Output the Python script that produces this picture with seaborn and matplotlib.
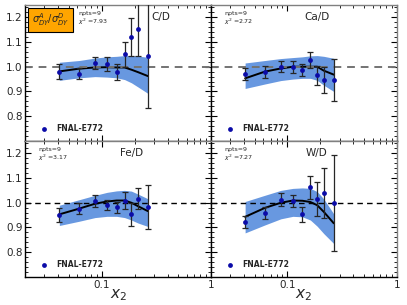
import matplotlib
matplotlib.use('Agg')
import matplotlib.pyplot as plt
import seaborn as sns
import pandas as pd
from matplotlib.ticker import FixedLocator, NullFormatter, AutoMinorLocator, FormatStrFormatter

# x2 values of the FNAL-E772 points (same for every target)
x2 = [0.041, 0.062, 0.087, 0.112, 0.137, 0.162, 0.187, 0.215, 0.265]

panels = ['C/D', 'Ca/D', 'Fe/D', 'W/D']
chi2 = ['7.93', '2.72', '3.17', '7.27']

# data ratios and errors
ratio_C = [0.980, 0.972, 1.014, 1.011, 0.978, 1.050, 1.120, 1.154, 1.045]
err_C = [0.030, 0.022, 0.025, 0.027, 0.033, 0.050, 0.078, 0.112, 0.210]
ratio_Ca = [0.970, 0.980, 1.000, 1.000, 0.986, 1.026, 0.965, 0.946, 0.946]
err_Ca = [0.024, 0.024, 0.023, 0.025, 0.025, 0.032, 0.037, 0.052, 0.085]
ratio_Fe = [0.951, 0.975, 1.008, 0.991, 0.982, 1.008, 0.953, 1.016, 0.983]
err_Fe = [0.027, 0.022, 0.024, 0.020, 0.023, 0.035, 0.047, 0.043, 0.090]
ratio_W = [0.922, 0.957, 1.013, 1.007, 0.953, 1.063, 1.014, 1.039, 1.000]
err_W = [0.025, 0.024, 0.026, 0.026, 0.031, 0.047, 0.069, 0.100, 0.194]

# theory central curve and uncertainty band
fit_C = [0.981, 0.992, 0.997, 0.998, 0.997, 0.997, 0.988, 0.978, 0.962]
up_C = [1.018, 1.025, 1.035, 1.040, 1.042, 1.045, 1.045, 1.043, 1.038]
lo_C = [0.945, 0.955, 0.960, 0.958, 0.955, 0.948, 0.935, 0.918, 0.892]
fit_Ca = [0.953, 0.980, 0.993, 1.000, 1.000, 1.000, 1.000, 0.984, 0.968]
up_Ca = [1.015, 1.025, 1.033, 1.037, 1.040, 1.044, 1.045, 1.042, 1.034]
lo_Ca = [0.912, 0.930, 0.944, 0.950, 0.953, 0.953, 0.945, 0.925, 0.900]
fit_Fe = [0.953, 0.976, 0.996, 1.005, 1.009, 1.009, 1.000, 0.986, 0.966]
up_Fe = [0.990, 1.012, 1.030, 1.042, 1.048, 1.050, 1.047, 1.035, 1.016]
lo_Fe = [0.908, 0.925, 0.940, 0.945, 0.945, 0.940, 0.930, 0.918, 0.904]
fit_W = [0.943, 0.979, 1.000, 1.009, 1.008, 1.003, 0.990, 0.963, 0.917]
up_W = [1.005, 1.030, 1.050, 1.058, 1.060, 1.058, 1.045, 1.015, 0.955]
lo_W = [0.878, 0.910, 0.935, 0.945, 0.943, 0.930, 0.905, 0.875, 0.835]

ratios = [ratio_C, ratio_Ca, ratio_Fe, ratio_W]
errs = [err_C, err_Ca, err_Fe, err_W]
fits = [fit_C, fit_Ca, fit_Fe, fit_W]
ups = [up_C, up_Ca, up_Fe, up_W]
los = [lo_C, lo_Ca, lo_Fe, lo_W]

sns.set_theme(style='ticks')
plt.rcParams['font.family'] = ['DejaVu Sans']
plt.rcParams['mathtext.fontset'] = 'dejavusans'

fig, axes = plt.subplots(2, 2, figsize=(4.07, 3.05), dpi=100, sharex=True, sharey=True)
fig.subplots_adjust(left=0.062, right=0.975, top=0.984, bottom=0.092, wspace=0, hspace=0)

band_col = '#6898e0'
pt_col = '#0b0ba8'

for i, ax in enumerate(axes.flat):
    df = pd.DataFrame({'x2': x2, 'ratio': ratios[i], 'err': errs[i],
                       'fit': fits[i], 'up': ups[i], 'lo': los[i]})
    ax.fill_between(df['x2'], df['lo'], df['up'], color=band_col, lw=0, zorder=1)
    sns.lineplot(data=df, x='x2', y='fit', color='black', lw=1.4, ax=ax, zorder=2)
    eb = ax.errorbar(df['x2'], df['ratio'], yerr=df['err'], fmt='none', ecolor='0.15',
                     elinewidth=0.9, capsize=2.2, capthick=0.9, zorder=3)
    for cap in eb[1]:
        cap.set_color('0.45')
    sns.scatterplot(data=df, x='x2', y='ratio', color=pt_col, s=12, marker='o',
                    edgecolor=pt_col, linewidth=0, ax=ax, zorder=4, label='FNAL-E772')

    if i < 2:
        ax.axhline(1.0, color='0.45', ls=(0, (4, 3)), lw=1.4, zorder=2.5)
    else:
        ax.axhline(1.0, color='black', ls=(0, (4, 3)), lw=1.0, zorder=2.5)

    ax.set_xscale('log')
    ax.set_xlim(0.02, 1)
    ax.set_ylim(0.7, 1.25)
    ax.xaxis.set_major_locator(FixedLocator([0.1, 1]))
    ax.xaxis.set_major_formatter(FormatStrFormatter('%g'))
    ax.xaxis.set_minor_locator(FixedLocator([0.02, 0.03, 0.04, 0.05, 0.06, 0.07, 0.08, 0.09,
                                             0.2, 0.3, 0.4, 0.5, 0.6, 0.7, 0.8, 0.9]))
    ax.xaxis.set_minor_formatter(NullFormatter())
    ax.yaxis.set_major_locator(FixedLocator([0.8, 0.9, 1.0, 1.1, 1.2]))
    ax.yaxis.set_major_formatter(FormatStrFormatter('%.1f'))
    ax.yaxis.set_minor_locator(AutoMinorLocator(5))
    ax.tick_params(which='both', direction='in', top=True, right=True, labelsize=7.5,
                   pad=2, color='black')
    ax.tick_params(which='major', length=4, width=0.8)
    ax.tick_params(which='minor', length=2, width=0.6)
    for side in ['left', 'bottom']:
        ax.spines[side].set_color('black')
        ax.spines[side].set_linewidth(1.0)
    for side in ['top', 'right']:
        ax.spines[side].set_color('0.5')
        ax.spines[side].set_linewidth(1.0)

    ax.set_ylabel('')
    if i >= 2:
        ax.set_xlabel('$x_2$', fontsize=11, labelpad=-2)
    else:
        ax.set_xlabel('')

    txt_x = 0.285 if i == 0 else 0.07
    ax.text(txt_x, 0.935, 'npts=9', transform=ax.transAxes, fontsize=4.5, va='center')
    ax.text(txt_x, 0.875, r'$\chi^2$ =' + chi2[i], transform=ax.transAxes, fontsize=4.5,
            va='center')
    lab_x = 0.73 if i == 0 else 0.57
    ax.text(lab_x, 0.91, panels[i], transform=ax.transAxes, fontsize=7.5, ha='center',
            va='center')

    leg = ax.legend(loc='lower left', frameon=False, handletextpad=0.6, borderaxespad=0.3,
                    markerscale=1.0, prop={'weight': 'bold', 'size': 5.5},
                    bbox_to_anchor=(0.03, 0.02))

axes[0, 0].text(0.035, 0.89, r'$\sigma^A_{DY}/\sigma^D_{DY}$', transform=axes[0, 0].transAxes,
                fontsize=7.0, va='center', ha='left',
                bbox=dict(boxstyle='square,pad=0.4', facecolor='#ffa500', edgecolor='black',
                          linewidth=0.8))

fig.savefig('out.png', dpi=100)
